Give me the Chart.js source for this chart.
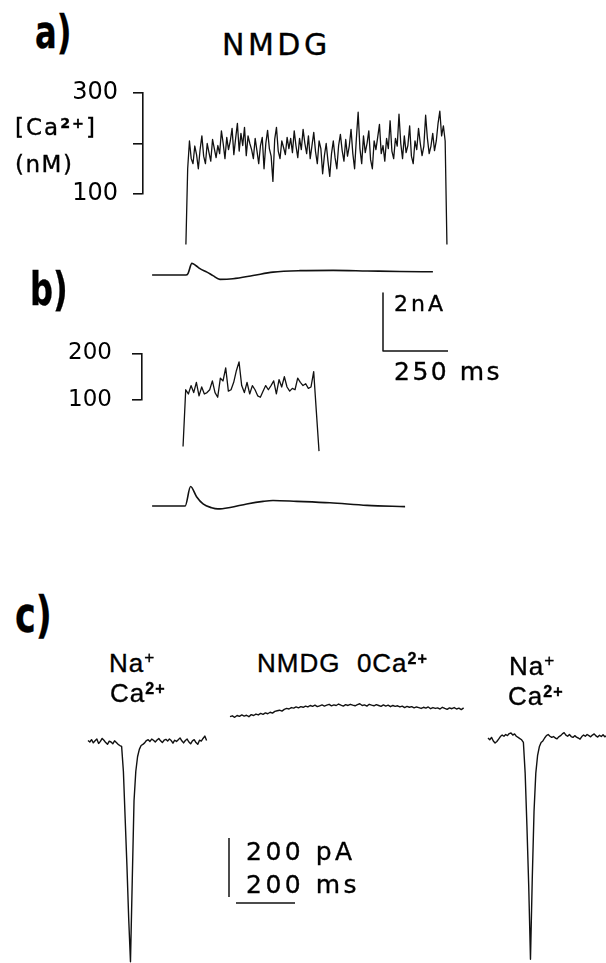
<!DOCTYPE html>
<html>
<head>
<meta charset="utf-8">
<script src="https://cdn.jsdelivr.net/npm/chart.js@4.4.1/dist/chart.umd.min.js"></script>
<style>
  html, body { margin: 0; padding: 0; background: #fff; }
  #fig { position: relative; width: 606px; height: 963px; overflow: hidden; background: #fff; }
  #fig canvas { position: absolute; }
  .lbl { position: absolute; white-space: pre; line-height: 1; color: #000; font-family: "DejaVu Sans", sans-serif; -webkit-text-stroke: 0.35px #000; }
  .sup { position: relative; top: -0.48em; font-size: 0.62em; font-weight: bold; }
  .supl { position: relative; top: -0.5em; font-size: 0.66em; }
  .big { font-family: "DejaVu Sans", sans-serif; font-weight: bold; display: inline-block; transform: scaleX(0.7); transform-origin: left bottom; }
</style>
</head>
<body>
<div id="fig"></div>
<script>
// ---- datos ----
// a) [Ca2+] (nM) con NMDG, muestreo uniforme entre CA_A_T0 y CA_A_T1 (ms)
const CA_A_T0 = 165, CA_A_T1 = 1169;
const caA = [
  0, 150, 205, 170, 160, 195, 178, 150, 188, 215, 175,
  160, 200, 182, 165, 208, 190, 172,
  196, 180, 225, 200, 170, 212, 188, 205, 230, 178,
  210, 240, 185, 220, 196, 232, 176, 215, 200, 188,
  170, 210, 186, 160, 196, 212, 150, 200, 226, 190,
  175, 125, 208, 232, 185, 170, 205, 192, 178, 212,
  190, 210, 182, 225, 195, 172, 210, 188, 228, 200,
  180, 215, 170, 196, 222, 184, 160, 205, 190, 140,
  176, 200, 165, 135, 180, 205, 172, 150, 196, 218,
  186, 165, 208, 175, 195, 228, 180, 150, 210, 262,
  190, 160, 215, 182, 200, 225, 168, 150, 205, 188,
  212, 238, 180, 196, 165, 210, 190, 245, 185, 170,
  210, 195, 258, 200, 170, 215, 182, 196, 235, 175,
  160, 205, 188, 230, 200, 176, 195, 256, 210, 180,
  195, 220, 186, 205, 240, 264, 215, 235, 205, 0
];
// a) corriente (nA)
const curA_t = [35, 165, 173, 188, 204, 219, 246, 269, 296, 346, 423, 500, 604, 731, 862, 988, 1115];
const curA = [0, 0, 0.05, 0.40, 0.32, 0.22, 0.10, -0.02, -0.15, -0.13, -0.02, 0.10, 0.15, 0.16, 0.14, 0.12, 0.11];

// b) [Ca2+] (nM)
const CA_B_T0 = 154, CA_B_T1 = 677;
const caB = [
  0, 122, 113, 131, 116, 138, 109, 128, 113, 116,
  122, 141, 116, 106, 147, 141, 169, 119, 122, 138,
  163, 182, 131, 116, 138, 113, 131, 122, 109, 106,
  119, 131, 122, 131, 141, 113, 144, 128, 150, 128,
  119, 125, 122, 147, 138, 131, 135, 125, 128, 161,
  75, -10
];
// b) corriente (nA)
const curB_t = [35, 162, 183, 206, 231, 264, 288, 335, 399, 462, 500, 591, 719, 862, 1008];
const curB = [0, 0, 0.67, 0.32, 0.07, -0.06, -0.10, -0.05, 0.07, 0.16, 0.19, 0.16, 0.11, 0.02, -0.02];

// escalas: 2 nA / 250 ms y 200 pA / 200 ms
const barAB_t = [0, 0, 250];
const barAB_nA = [2, 0, 0];
const barC_v_t = [0, 0];
const barC_v_pA = [0, 200];
const barC_h_t = [0, 200];
const barC_h_pA = [0, 0];

// c) corrientes (pA), Na+/Ca2+ - NMDG 0Ca2+ - Na+/Ca2+
const C_LEFT_DT = 6, C_MID_DT = 8, C_RIGHT_DT = 6;
const cLeft = [
  5, 0, 8, -3, 4, 10, -5, 2, 12, 6, -2, -8, 3, 0, -6, 4, -2, -8, -12,
  -15, -100, -260, -420, -600, -745, -470, -200, -100, -50, -25, -12,
  -8, -3, 5, 8, 2, 10, 6, 0, 7, 12, 4, -2, 6, 9, 3, 10, 5, -4, 6, 2,
  8, 14, 4, -3, 5, 10, 0, -6, 4, 8, -2, -8, 6, 3, 12, 20, 5
];
const cMid = [
  0, 3, -2, 4, 1, 6, 2, 5, 0, 7, 4,
  9, 6, 11, 8, 13, 10, 15, 12, 18, 20,
  22, 19, 25, 28, 26, 31, 29, 33, 30, 34,
  32, 36, 33, 38, 35, 39, 34, 37, 40, 36,
  39, 42, 37, 40, 38, 43, 39, 36, 41, 38,
  42, 39, 37, 41, 44, 38, 40, 36, 42, 39,
  37, 41, 38, 35, 40, 36, 39, 34, 38, 35,
  37, 33, 36, 31, 35, 32, 34, 30, 33, 31,
  28, 32, 29, 33, 27, 31, 28, 30, 26, 32,
  28, 25, 30, 27, 31, 26, 29, 24, 30
];
const cRight = [
  0, -6, 2, -10, -17, -12, -4, 5, 10, 6, 12, 8, 15, 17, 10, 14, 6, 2, -2, -6,
  -15, -120, -300, -500, -750, -480, -250, -120, -60, -30, -15,
  -10, 0, 8, 12, 6, 2, 5, 0, -3, 4, 8, 14, 18, 10, 6, 12, 5, 2, 8, 3,
  0, -4, 5, 10, 6, 12, 8, 4, 10, 14, 7, 3, 9, 5, 11, 4, 8
];

// ---- helpers ----
const fig = document.getElementById('fig');
const INK = '#111';

function uniform(n, t0, t1) {
  return Array.from({ length: n }, (_, i) => t0 + i * (t1 - t0) / (n - 1));
}
function steps(n, dt) {
  return Array.from({ length: n }, (_, i) => i * dt);
}
function pts(xs, ys) {
  return xs.map((x, i) => ({ x: x, y: ys[i] }));
}
function mkCanvas(p) {
  const cv = document.createElement('canvas');
  cv.width = p.width; cv.height = p.height;
  cv.style.left = p.left + 'px'; cv.style.top = p.top + 'px';
  cv.style.width = p.width + 'px'; cv.style.height = p.height + 'px';
  fig.appendChild(cv);
  return cv;
}
function lineSet(xs, ys, opt) {
  opt = opt || {};
  return {
    data: pts(xs, ys),
    borderColor: INK,
    borderWidth: opt.w || 1.4,
    pointRadius: 0,
    tension: opt.smooth ? 0.4 : 0,
    cubicInterpolationMode: opt.smooth ? 'monotone' : 'default',
    borderJoinStyle: 'round',
    clip: false
  };
}
const baseOpts = {
  responsive: false,
  animation: false,
  events: [],
  plugins: { legend: { display: false }, tooltip: { enabled: false } }
};

// traza sin ejes: x0/y0 = pixel del valor 0, sx/sy = pixeles por unidad
function traceChart(p, sets) {
  new Chart(mkCanvas(p), {
    type: 'line',
    data: { datasets: sets },
    options: Object.assign({}, baseOpts, {
      layout: { padding: 0 },
      scales: {
        x: { type: 'linear', display: false, min: (p.left - p.x0) / p.sx, max: (p.left + p.width - p.x0) / p.sx },
        y: { type: 'linear', display: false, min: (p.y0 - p.top - p.height) / p.sy, max: (p.y0 - p.top) / p.sy }
      }
    })
  });
}

// traza de calcio con el corchete de escala como eje y
function caChart(p, ax, t, v) {
  new Chart(mkCanvas(p), {
    type: 'line',
    data: { datasets: [lineSet(t, v, { w: 1.3 })] },
    options: Object.assign({}, baseOpts, {
      layout: { padding: { top: ax.top - p.top, bottom: p.top + p.height - ax.bottom, left: 0, right: 0 } },
      scales: {
        x: { type: 'linear', display: false, min: (ax.x - p.x0) / p.sx, max: (p.left + p.width - p.x0) / p.sx },
        y: {
          type: 'linear', position: 'left', min: ax.min, max: ax.max,
          afterFit: s => { s.width = ax.x - p.left; },
          border: { display: true, color: INK, width: 1.6 },
          grid: { drawOnChartArea: false, drawTicks: true, tickLength: 10, color: INK, lineWidth: 1.6 },
          ticks: {
            stepSize: ax.step, padding: ax.pad, color: '#000',
            font: { family: 'DejaVu Sans', size: ax.font, lineHeight: 1 },
            callback: val => (val === ax.min || val === ax.max) ? String(val) : ''
          }
        }
      }
    })
  });
}

function txt(html, x, base, size, extra) {
  const d = document.createElement('div');
  d.className = 'lbl';
  d.innerHTML = html;
  d.style.left = x + 'px';
  d.style.top = (base - 0.846 * size) + 'px';
  d.style.fontSize = size + 'px';
  Object.assign(d.style, extra || {});
  fig.appendChild(d);
}

// ---- panel a ----
const SX_AB = 65 / 250;   // px por ms
caChart({ left: 0, top: 66, width: 460, height: 194, x0: 143, sx: SX_AB },
  { x: 143, top: 91, bottom: 194, min: 100, max: 300, step: 100, pad: 15, font: 24 },
  uniform(caA.length, CA_A_T0, CA_A_T1), caA);
traceChart({ left: 143, top: 240, width: 310, height: 60, x0: 143, y0: 275, sx: SX_AB, sy: 29 },
  [lineSet(curA_t, curA, { smooth: true, w: 1.6 })]);

// escala 2 nA / 250 ms
traceChart({ left: 370, top: 280, width: 90, height: 80, x0: 383, y0: 351, sx: SX_AB, sy: 29 },
  [lineSet(barAB_t, barAB_nA, { w: 1.5 })]);

// ---- panel b ----
caChart({ left: 0, top: 322, width: 460, height: 148, x0: 143, sx: SX_AB },
  { x: 142, top: 347, bottom: 400, min: 100, max: 200, step: 100, pad: 20, font: 23 },
  uniform(caB.length, CA_B_T0, CA_B_T1), caB);
traceChart({ left: 143, top: 470, width: 280, height: 60, x0: 143, y0: 506, sx: SX_AB, sy: 29 },
  [lineSet(curB_t, curB, { smooth: true, w: 1.6 })]);

// ---- panel c ----
const SC = 59 / 200;   // px por ms y por pA
traceChart({ left: 80, top: 700, width: 135, height: 263, x0: 88, y0: 742, sx: SC, sy: SC },
  [lineSet(steps(cLeft.length, C_LEFT_DT), cLeft, { w: 1.4 })]);
traceChart({ left: 222, top: 680, width: 250, height: 60, x0: 230, y0: 716.7, sx: SC, sy: SC },
  [lineSet(steps(cMid.length, C_MID_DT), cMid, { w: 1.4 })]);
traceChart({ left: 480, top: 700, width: 126, height: 263, x0: 488, y0: 738, sx: SC, sy: SC },
  [lineSet(steps(cRight.length, C_RIGHT_DT), cRight, { w: 1.4 })]);
traceChart({ left: 220, top: 830, width: 20, height: 75, x0: 229, y0: 897, sx: SC, sy: SC },
  [lineSet(barC_v_t, barC_v_pA, { w: 1.5 })]);
traceChart({ left: 230, top: 895, width: 75, height: 16, x0: 236, y0: 903, sx: SC, sy: SC },
  [lineSet(barC_h_t, barC_h_pA, { w: 1.5 })]);

// ---- textos ----
txt('<span class="big">a)</span>', 35, 48, 46);
txt('NMDG', 222, 55, 30, { letterSpacing: '3.5px' });
txt('[Ca<span class="sup">2+</span>]', 15, 135, 23, { letterSpacing: '2px' });
txt('(nM)', 15, 172, 23, { letterSpacing: '1.5px' });
txt('<span class="big">b)</span>', 30, 305, 46);
txt('2nA', 394, 312, 22, { letterSpacing: '3px' });
txt('250 ms', 394, 380, 25, { letterSpacing: '2.5px' });

txt('<span class="big">c)</span>', 15, 632, 50);
const ionFont = { fontFamily: '"Liberation Sans", sans-serif', letterSpacing: '1px' };
txt('Na<span class="supl">+</span>', 109, 672, 26, ionFont);
txt('Ca<span class="sup">2+</span>', 110, 702, 26, ionFont);
txt('NMDG  0Ca<span class="sup">2+</span>', 257, 672, 26, ionFont);
txt('Na<span class="supl">+</span>', 509, 675, 26, ionFont);
txt('Ca<span class="sup">2+</span>', 508, 705, 26, ionFont);
txt('200 pA', 246, 860, 25, { letterSpacing: '3.5px' });
txt('200 ms', 246, 893, 25, { letterSpacing: '3.5px' });
</script>
</body>
</html>
